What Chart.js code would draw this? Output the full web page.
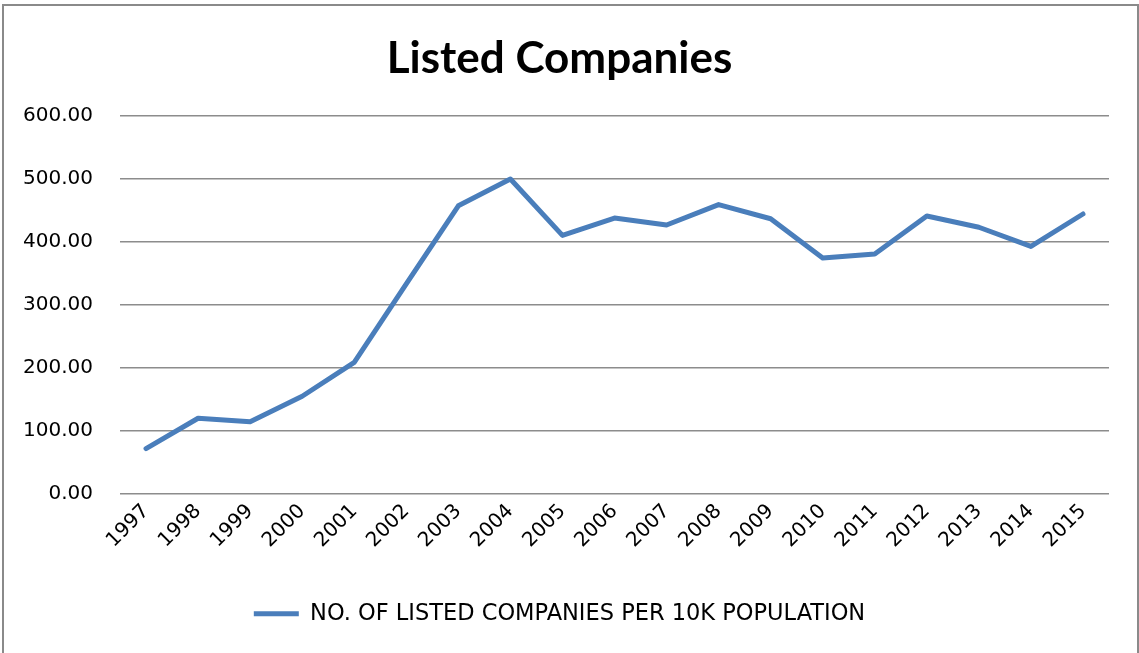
<!DOCTYPE html>
<html>
<head>
<meta charset="utf-8">
<title>Listed Companies</title>
<script src="https://cdn.jsdelivr.net/npm/chart.js@4.4.1/dist/chart.umd.min.js"></script>
<style>
  html, body { margin: 0; padding: 0; background: #fff; }
  #wrap { position: relative; width: 1139px; height: 653px; overflow: hidden; }
  #frame {
    position: absolute; left: 2px; top: 4px; width: 1133px; height: 700px;
    border: 2px solid #8a8a8a; pointer-events: none;
  }
  canvas { position: absolute; left: 0; top: 0; }
</style>
</head>
<body>
<div id="wrap">
  <canvas id="chart" width="1139" height="653"></canvas>
  <div id="frame"></div>
</div>
<script>
const years = ["1997", "1998", "1999", "2000", "2001", "2002", "2003", "2004", "2005", "2006",
  "2007", "2008", "2009", "2010", "2011", "2012", "2013", "2014", "2015"];
const companiesPer10k = [71.4, 119.5, 113.8, 154.5, 208.4, 333.0, 457.0, 499.5, 410.0, 437.6,
  426.5, 459.0, 436.5, 374.0, 380.5, 440.8, 423.0, 392.5, 444.0];
const yTicks = [0, 100, 200, 300, 400, 500, 600];

const titleFace = "Lato, sans-serif";
const labelFace = "'DejaVu Sans', sans-serif";
const gridGray = "#8c8c8c";

function drawChart() {
  const ctx = document.getElementById("chart").getContext("2d");
  new Chart(ctx, {
    type: "line",
    data: {
      labels: years,
      datasets: [{
        label: "NO. OF LISTED COMPANIES PER 10K POPULATION",
        data: companiesPer10k,
        borderColor: "#4a7ebb",
        backgroundColor: "#4a7ebb",
        borderWidth: 5,
        borderCapStyle: "round",
        borderJoinStyle: "round",
        pointRadius: 0,
        pointHoverRadius: 0,
        tension: 0,
        fill: false,
      }],
    },
    options: {
      responsive: false,
      animation: false,
      layout: { padding: { left: 10, right: 30, top: 0, bottom: 18 } },
      plugins: {
        title: {
          display: true,
          text: "Listed Companies",
          color: "#000",
          font: { family: titleFace, size: 44, weight: "bold", lineHeight: 1.2 },
          padding: { top: 32, bottom: 31 },
        },
        legend: {
          position: "bottom",
          labels: {
            color: "#000",
            font: { family: labelFace, size: 22.5 },
            usePointStyle: true,
            pointStyle: "line",
            pointStyleWidth: 45,
            boxHeight: 10,
            padding: 9,
          },
        },
        tooltip: { enabled: false },
      },
      scales: {
        x: {
          offset: true,
          grid: { display: false, drawTicks: false },
          border: { display: false },
          ticks: {
            color: "#000",
            font: { family: labelFace, size: 20 },
            minRotation: 45,
            maxRotation: 45,
            autoSkip: false,
            padding: 6,
          },
          afterFit: (scale) => { scale.height = 100; },
        },
        y: {
          min: 0,
          max: 600,
          afterBuildTicks: (scale) => { scale.ticks = yTicks.map((v) => ({ value: v })); },
          grid: { color: gridGray, lineWidth: 1.5, drawTicks: false },
          border: { display: false },
          ticks: {
            color: "#000",
            font: { family: labelFace, size: 20 },
            padding: 27,
            callback: (v) => Number(v).toFixed(2),
          },
          afterFit: (scale) => { scale.width = 110; },
        },
      },
    },
  });
}

// make sure the installed faces are ready before the canvas is painted
Promise.all([
  document.fonts.load("bold 44px Lato"),
  document.fonts.load("20px 'DejaVu Sans'"),
]).then(drawChart, drawChart);
</script>
</body>
</html>
